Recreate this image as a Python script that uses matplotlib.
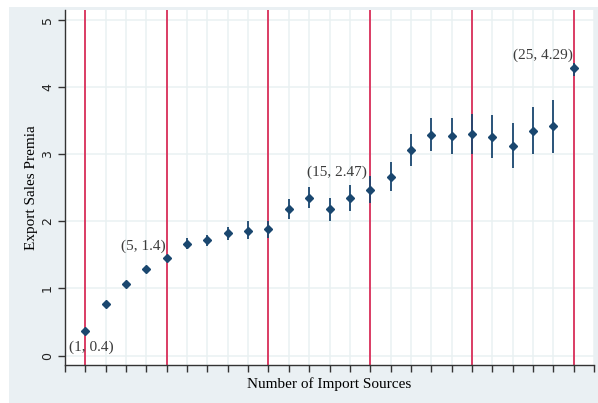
import numpy as np
import matplotlib
matplotlib.use("Agg")
import matplotlib.pyplot as plt
from matplotlib.patches import Rectangle

# number of import sources and estimated premia
sources = [1, 2, 3, 4, 5, 6, 7, 8, 9, 10, 11, 12, 13, 14, 15, 16, 17, 18, 19, 20, 21, 22, 23, 24, 25]
premia = [0.37, 0.77, 1.06, 1.29, 1.45, 1.67, 1.72, 1.82, 1.86, 1.88, 2.19, 2.35, 2.18, 2.35, 2.47,
          2.66, 3.07, 3.29, 3.27, 3.30, 3.26, 3.13, 3.35, 3.42, 4.29]
ci_low = [0.34, 0.74, 1.02, 1.24, 1.41, 1.59, 1.64, 1.72, 1.74, 1.75, 2.04, 2.20, 2.00, 2.16, 2.27,
          2.45, 2.82, 3.05, 3.01, 3.01, 2.95, 2.80, 3.01, 3.02, 4.17]
ci_high = [0.40, 0.80, 1.10, 1.34, 1.49, 1.75, 1.80, 1.92, 2.00, 2.01, 2.34, 2.51, 2.35, 2.54, 2.68,
           2.89, 3.30, 3.54, 3.54, 3.60, 3.58, 3.47, 3.70, 3.81, 4.36]
marked = [1, 5, 10, 15, 20, 25]
labels = {1: "(1, 0.4)", 5: "(5, 1.4)", 15: "(15, 2.47)", 25: "(25, 4.29)"}

navy = "#1a476f"
serif = ["Liberation Serif", "DejaVu Serif"]

fig = plt.figure(figsize=(5.98, 4.03), dpi=100)
fig.patches.append(Rectangle((9/598, 0), 1, 1 - 7/403, transform=fig.transFigure,
                             facecolor="#eaf0f3", edgecolor="none", zorder=-10))

ax = fig.add_axes([65/598, 38/403, 529/598, 355/403])
ax.set_facecolor("white")

x = np.array(sources)
y = np.array(premia)
lo = np.array(ci_low)
hi = np.array(ci_high)

ax.vlines(x, lo, hi, color=navy, lw=1.3, zorder=3)
ax.plot(x, y, "D", color=navy, ms=4.5, zorder=4)

for m in marked:
    ax.axvline(m, color="#d81e4c", lw=1.2, zorder=2)

# label offsets in points
offsets = {1: (4, -12), 5: (-17, 9), 15: (-24, 13), 25: (-22, 9)}
for k, txt in labels.items():
    ax.annotate(txt, (k, premia[k - 1]), xytext=offsets[k], textcoords="offset points",
                ha="center", va="center", fontsize=11, color="#3c3c3c", family=serif, zorder=5)

ax.set_xlim(0, 26)
ax.set_ylim(-0.14, 5.15)
ax.set_xticks(np.arange(0, 27))
ax.set_xticklabels([])
ax.set_yticks(np.arange(0, 6))
ax.set_yticklabels([str(v) for v in range(6)], rotation=90, va="center", fontsize=9, color="#222222")
ax.grid(True, color="#e9f1f2", lw=1.1, zorder=0)
ax.set_axisbelow(True)

for s in ["top", "right"]:
    ax.spines[s].set_visible(False)
for s in ["left", "bottom"]:
    ax.spines[s].set_color("#333333")
    ax.spines[s].set_linewidth(1.0)
ax.tick_params(axis="y", length=5, width=1, color="#333333", pad=3)
ax.tick_params(axis="x", length=5, width=1, color="#333333", pad=0)

ax.set_ylabel("Export Sales Premia", family=serif, fontsize=11, labelpad=2)
ax.set_xlabel("Number of Import Sources", family=serif, fontsize=11, labelpad=4)

fig.savefig("out.png", dpi=100)
